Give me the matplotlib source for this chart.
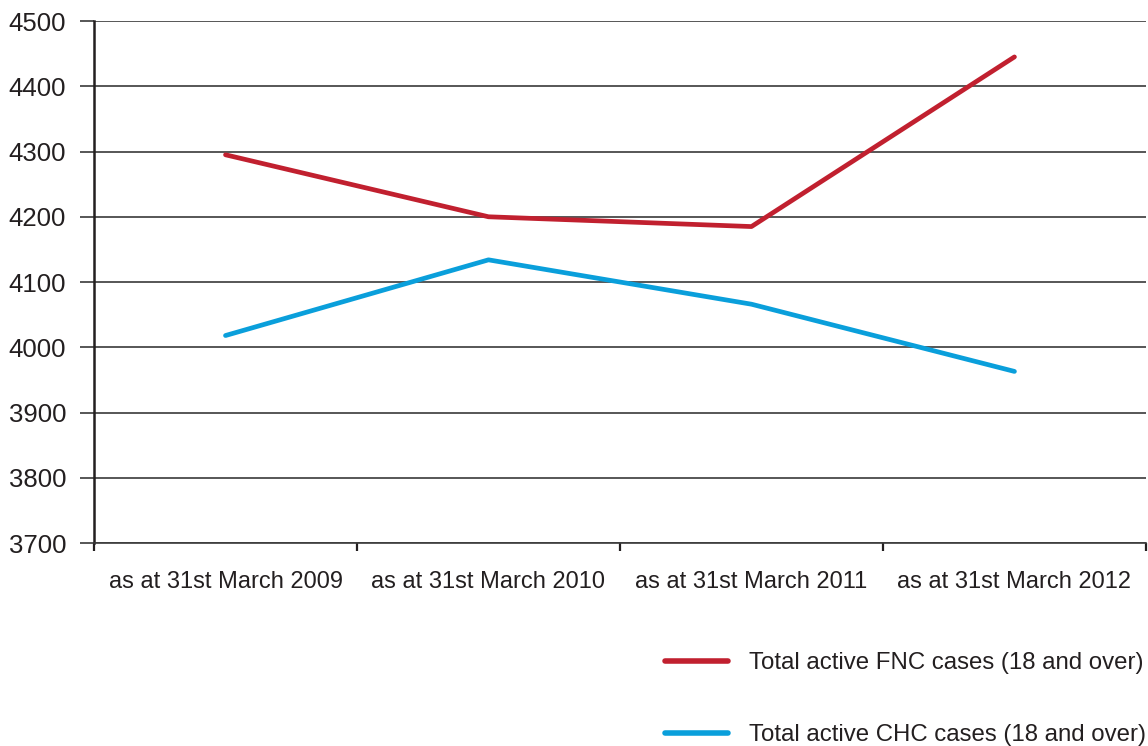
import numpy as np
import matplotlib
matplotlib.use('Agg')
import matplotlib.pyplot as plt
from matplotlib.ticker import FixedLocator

plt.rcParams['font.family'] = ['Liberation Sans', 'DejaVu Sans']

# data
categories = ['as at 31st March 2009', 'as at 31st March 2010',
              'as at 31st March 2011', 'as at 31st March 2012']
fnc_cases = [4295, 4200, 4185, 4445]
chc_cases = [4018, 4134, 4066, 3963]
series_labels = ['Total active FNC cases (18 and over)',
                 'Total active CHC cases (18 and over)']
colors = ['#C1202F', '#0A9FDB']

fig = plt.figure(figsize=(11.48, 7.46), dpi=100)
ax = fig.add_axes([0.0819, 0.2721, 0.9163, 0.6997])

x = np.arange(len(categories))
l1, = ax.plot(x, fnc_cases, color=colors[0], lw=3.4, solid_capstyle='round', zorder=3)
l2, = ax.plot(x, chc_cases, color=colors[1], lw=3.4, solid_capstyle='round', zorder=3)

ax.set_xlim(-0.5, len(categories) - 0.5)
ax.set_ylim(3700, 4500)
ax.set_yticks(np.arange(3700, 4501, 100))
ax.yaxis.grid(True, color='#3a3a3a', lw=1.2)
ax.set_axisbelow(True)

# category labels centred, tick marks at boundaries
ax.set_xticks(x)
ax.set_xticklabels(categories, fontsize=17, color='#231f20')
ax.xaxis.set_minor_locator(FixedLocator(np.arange(-0.5, len(categories), 1)))
ax.tick_params(axis='x', which='major', length=0, pad=20)
ax.tick_params(axis='x', which='minor', length=6, width=1.6, color='#231f20', direction='out')
ax.tick_params(axis='y', length=10, width=1.2, color='#3a3a3a', labelsize=18.5,
               labelcolor='#231f20', pad=10)

for s in ['top', 'right']:
    ax.spines[s].set_visible(False)
ax.spines['left'].set_linewidth(1.8)
ax.spines['left'].set_color('#231f20')
ax.spines['bottom'].set_linewidth(1.2)
ax.spines['bottom'].set_color('#3a3a3a')

leg = fig.legend([l1, l2], series_labels, loc='upper left',
                 bbox_to_anchor=(0.5795, 0.126), bbox_transform=fig.transFigure,
                 frameon=False, fontsize=17.3, handlelength=2.6, handletextpad=0.9,
                 labelspacing=2.1, borderaxespad=0, borderpad=0)
for t in leg.get_texts():
    t.set_color('#231f20')
for h in leg.legend_handles:
    h.set_linewidth(4)

fig.savefig('out.png', dpi=100)
